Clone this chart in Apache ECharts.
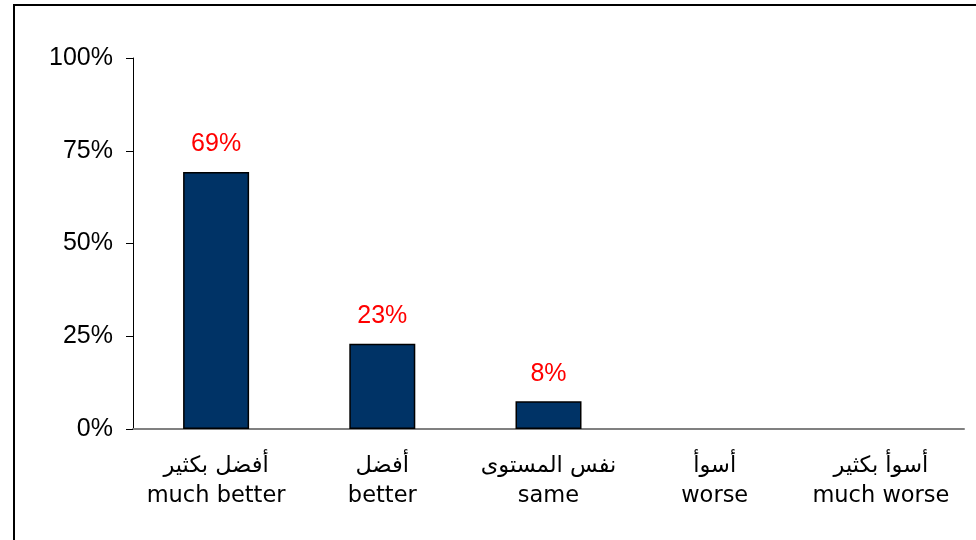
<!DOCTYPE html>
<html>
<head>
<meta charset="utf-8">
<script src="https://cdn.jsdelivr.net/npm/echarts@6/dist/echarts.min.js"></script>
<style>html,body{margin:0;padding:0;background:#fff}#c{width:976px;height:540px}</style>
</head>
<body>
<div id="c"></div>
<script>
const categoriesArabic = ["أفضل بكثير", "أفضل", "نفس المستوى", "أسوأ", "أسوأ بكثير"];
const categoriesEnglish = ["much better", "better", "same", "worse", "much worse"];
const values = [69.3, 23, 7.5, 0, 0];
const valueLabels = ["69%", "23%", "8%", "", ""];
const yTicks = [0, 25, 50, 75, 100];

const categories = categoriesArabic.map((a, i) => a + "\n" + categoriesEnglish[i]);
const chart = echarts.init(document.getElementById('c'), null, {renderer: 'canvas'});
chart.setOption({
  animation: false,
  backgroundColor: '#fff',
  graphic: [{
    type: 'rect', shape: {x: 14, y: 5, width: 1100, height: 700},
    style: {fill: 'none', stroke: '#000', lineWidth: 2}, z: -1
  }],
  grid: {left: 133, right: 12, top: 58, bottom: 111, containLabel: false},
  xAxis: {
    type: 'category', data: categories,
    axisLine: {lineStyle: {color: '#808080', width: 2}},
    axisTick: {show: false},
    axisLabel: {fontFamily: 'DejaVu Sans', fontSize: 22.5, color: '#000', lineHeight: 30, margin: 22, interval: 0}
  },
  yAxis: {
    type: 'value', min: yTicks[0], max: yTicks[yTicks.length - 1], interval: 25,
    axisLine: {show: true, lineStyle: {color: '#000', width: 1}},
    axisTick: {show: true, length: 7, lineStyle: {color: '#000'}},
    splitLine: {show: false},
    axisLabel: {formatter: '{value}%', fontFamily: 'Liberation Sans', fontSize: 25, color: '#000', margin: 20}
  },
  series: [{
    type: 'bar',
    data: values.map(v => v === 0 ? {value: v, itemStyle: {borderWidth: 0}} : v),
    barWidth: 66,
    itemStyle: {color: '#003366', borderColor: '#000', borderWidth: 1.5},
    label: {
      show: true, position: 'top', distance: 15,
      formatter: p => valueLabels[p.dataIndex],
      color: '#ff0000', fontFamily: 'Liberation Sans', fontSize: 25
    }
  }]
});
</script>
</body>
</html>
